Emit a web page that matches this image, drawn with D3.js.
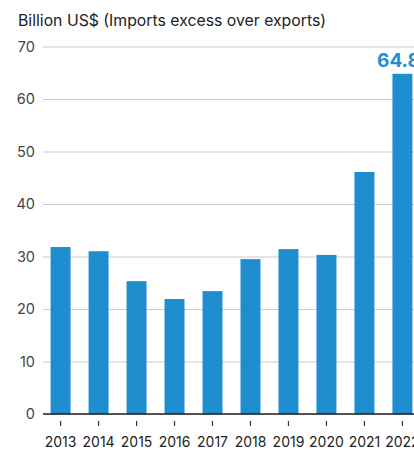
<!DOCTYPE html>
<html>
<head>
<meta charset="utf-8">
<script src="https://cdn.jsdelivr.net/npm/d3@7"></script>
<style>
  html, body { margin: 0; padding: 0; background: #fff; overflow: hidden; }
  svg { display: block; font-family: Inter, "Noto Sans", sans-serif; }
</style>
</head>
<body>
<svg id="chart" width="414" height="450"></svg>
<script>
// Trade deficit, billion US$ (imports excess over exports)
const years = ["2013", "2014", "2015", "2016", "2017", "2018", "2019", "2020", "2021", "2022"];
const deficit = [31.8, 31.0, 25.3, 21.9, 23.4, 29.5, 31.4, 30.3, 46.1, 64.8];
const yTicks = [0, 10, 20, 30, 40, 50, 60, 70];
const labelledYear = "2022";
const title = "Billion US$ (Imports excess over exports)";

const svg = d3.select("#chart");
const plotLeft = 43, plotRight = 420, plotTop = 46.5, plotBottom = 414;
const blue = "#1f8ecf";

const x = d3.scaleBand().domain(years).range([plotLeft, plotRight])
  .paddingInner(0.474).paddingOuter(0.2);
const y = d3.scaleLinear().domain([0, 70]).range([plotBottom, plotTop]);

// Title
svg.append("text")
  .attr("x", 18).attr("y", 26)
  .attr("font-size", 15.8).attr("fill", "#222")
  .text(title);

// Horizontal gridlines with value labels
const yAxis = d3.axisLeft(y).tickValues(yTicks).tickSize(-(414 - plotLeft)).tickPadding(8);
const gy = svg.append("g").attr("transform", `translate(${plotLeft},0)`).call(yAxis);
gy.select(".domain").remove();
gy.selectAll(".tick line").attr("stroke", "#cccccc").attr("stroke-width", 1.2);
gy.selectAll(".tick text").attr("font-size", 14.5).attr("fill", "#444").attr("x", -8)
  .attr("font-family", "Inter, 'Noto Sans', sans-serif");

// Bars
svg.append("g").selectAll("rect").data(years).join("rect")
  .attr("x", d => x(d))
  .attr("width", x.bandwidth())
  .attr("y", (d, i) => y(deficit[i]))
  .attr("height", (d, i) => y(0) - y(deficit[i]))
  .attr("fill", blue);

// Baseline and year axis
const xAxis = d3.axisBottom(x).tickSize(5).tickSizeOuter(0).tickPadding(11);
const gx = svg.append("g").attr("transform", `translate(0,${y(0) + 7})`).call(xAxis);
gx.select(".domain").remove();
gx.selectAll(".tick line").attr("stroke", "#333").attr("stroke-width", 1.2);
gx.selectAll(".tick text").attr("font-size", 14).attr("fill", "#222")
  .attr("font-family", "Inter, 'Noto Sans', sans-serif");

svg.append("line")
  .attr("x1", plotLeft).attr("x2", 414)
  .attr("y1", y(0)).attr("y2", y(0))
  .attr("stroke", "#222").attr("stroke-width", 1.5);

// Value label on the latest bar
const li = years.indexOf(labelledYear);
svg.append("text")
  .attr("x", x(labelledYear) + x.bandwidth() / 2)
  .attr("dx", -4)
  .attr("y", y(deficit[li]) - 7)
  .attr("text-anchor", "middle")
  .attr("font-size", 19).attr("font-weight", 700).attr("fill", blue)
  .text(deficit[li].toFixed(1));
</script>
</body>
</html>
